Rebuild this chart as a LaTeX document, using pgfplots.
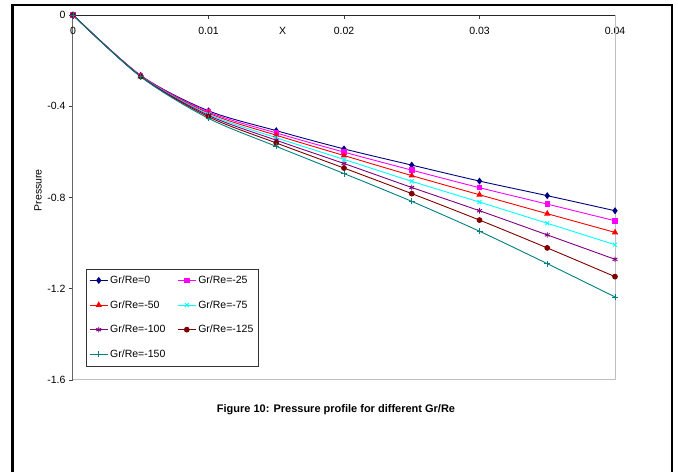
\documentclass[border=0pt]{standalone}
\usepackage{pgfplots}
\pgfplotsset{compat=1.18}
\usepackage{pgfplotstable}
\usepackage{fontspec}
\setmainfont{Liberation Sans}
\definecolor{cNavy}{HTML}{000080}
\definecolor{cMag}{HTML}{FF00FF}
\definecolor{cRed}{HTML}{FF0000}
\definecolor{cCyan}{HTML}{00FFFF}
\definecolor{cPurple}{HTML}{800080}
\definecolor{cDRed}{HTML}{800000}
\definecolor{cTeal}{HTML}{008080}
\pgfplotstableread{
x      a      b      c      d      e      f      g
0      0      0      0      0      0      0      0
0.005 -0.265 -0.266 -0.267 -0.268 -0.269 -0.270 -0.271
0.01  -0.420 -0.425 -0.430 -0.435 -0.440 -0.446 -0.453
0.015 -0.507 -0.517 -0.527 -0.538 -0.549 -0.561 -0.576
0.02  -0.587 -0.601 -0.616 -0.633 -0.651 -0.671 -0.695
0.025 -0.658 -0.680 -0.704 -0.729 -0.756 -0.783 -0.817
0.03  -0.728 -0.757 -0.788 -0.820 -0.858 -0.899 -0.948
0.035 -0.792 -0.829 -0.871 -0.913 -0.964 -1.021 -1.090
0.04  -0.858 -0.902 -0.953 -1.007 -1.071 -1.147 -1.236
}\datatable
\begin{document}
\begin{tikzpicture}[x=1pt,y=1pt]
\useasboundingbox (0,0) rectangle (678,472);
\draw[line width=2.6pt] (12.7,0) -- (12.7,467) -- (672,467) -- (672,0);
\begin{axis}[
  at={(73pt,92pt)}, anchor=south west,
  scale only axis, width=542pt, height=365pt,
  xmin=0, xmax=0.04, ymin=-1.6, ymax=0,
  scaled x ticks=false, scaled y ticks=false,
  axis x line*=top, axis y line*=left,
  x axis line style={-, black!85, line width=0.8pt},
  y axis line style={-, black!60, line width=1pt},
  xtick={0,0.01,0.02,0.03,0.04}, xticklabels={0,0.01,0.02,0.03,0.04},
  ytick={-1.6,-1.2,-0.8,-0.4,0}, yticklabels={-1.6,-1.2,-0.8,-0.4,0},
  xtick align=inside, ytick align=outside,
  major tick length=4pt,
  tick style={black!75, line width=0.7pt},
  tick label style={font=\fontsize{10.5}{12}\selectfont},
  xticklabel style={anchor=north, yshift=-9pt},
  label style={font=\fontsize{10.5}{12}\selectfont},
  xlabel={X},
  xlabel style={at={(axis description cs:0.387,0.956)}, anchor=center},
  ylabel={Pressure},
  ylabel style={at={(axis description cs:-0.0646,0.52)}, anchor=center, rotate=0},
  legend columns=2,
  legend cell align=left,
  legend style={at={(axis description cs:0.024,0.038)}, anchor=south west,
    draw=black!80, line width=0.6pt, font=\fontsize{10.5}{12}\selectfont,
    row sep=11.5pt, inner xsep=3pt, inner ysep=5pt,
    /tikz/column 2/.style={column sep=10pt}},
  legend image code/.code={\draw[mark repeat=2,mark phase=2,#1] plot coordinates {(0pt,0pt) (9pt,0pt) (18pt,0pt)};},
  every axis plot/.append style={line width=0.9pt, smooth},
  clip=false,
]
\draw[black!25, line width=1pt] (rel axis cs:0,0) -- (rel axis cs:1,0) -- (rel axis cs:1,1);
\addplot[color=cNavy, mark=diamond*, mark size=2.8pt, mark options={solid}] table[x=x,y=a] {\datatable};
\addlegendentry{Gr/Re=0}
\addplot[color=cMag, mark=square*, mark size=2.2pt] table[x=x,y=b] {\datatable};
\addlegendentry{Gr/Re=-25}
\addplot[color=cRed, mark=triangle*, mark size=2.8pt] table[x=x,y=c] {\datatable};
\addlegendentry{Gr/Re=-50}
\addplot[color=cCyan, mark=x, mark size=2.8pt] table[x=x,y=d] {\datatable};
\addlegendentry{Gr/Re=-75}
\addplot[color=cPurple, mark=asterisk, mark size=2.8pt] table[x=x,y=e] {\datatable};
\addlegendentry{Gr/Re=-100}
\addplot[color=cDRed, mark=*, mark size=2.4pt] table[x=x,y=f] {\datatable};
\addlegendentry{Gr/Re=-125}
\addplot[color=cTeal, mark=+, mark size=3pt] table[x=x,y=g] {\datatable};
\addlegendentry{Gr/Re=-150}
\end{axis}
\node[font=\bfseries\fontsize{11}{13}\selectfont] at (336,62) {Figure 10: Pressure profile for different Gr/Re};
\end{tikzpicture}
\end{document}
